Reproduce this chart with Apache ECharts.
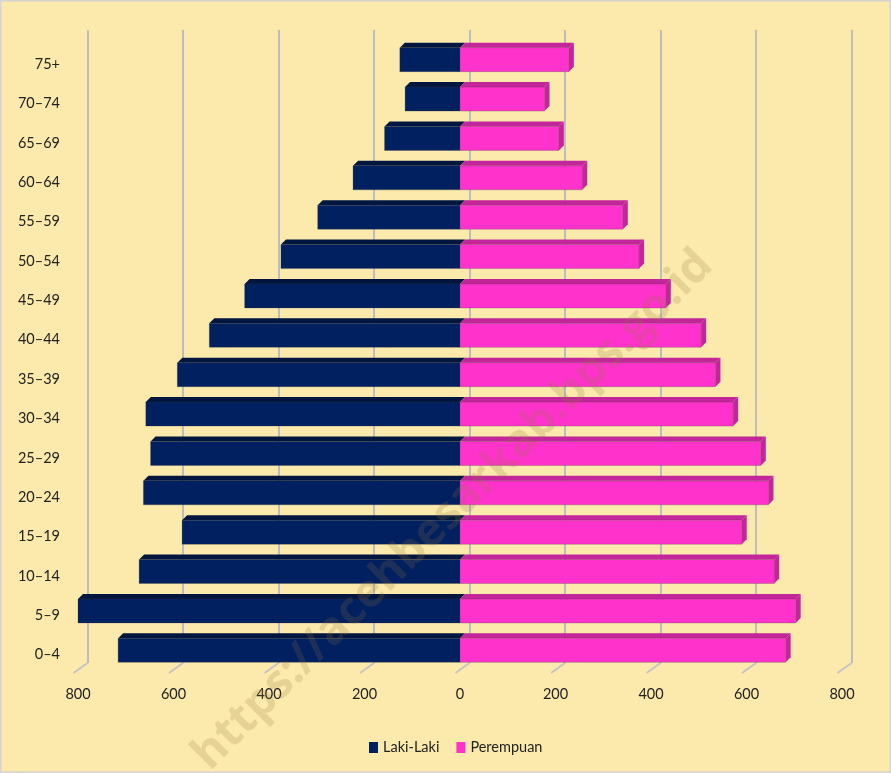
<!DOCTYPE html>
<html>
<head>
<meta charset="utf-8">
<script src="https://cdn.jsdelivr.net/npm/echarts@6/dist/echarts.min.js"></script>
<style>
html,body{margin:0;padding:0;background:#FCEAAD;}
#chart{width:891px;height:773px;}
</style>
</head>
<body>
<div id="chart"></div>
<script>
// ---- data ----
var categories = ['0\u20134','5\u20139','10\u201314','15\u201319','20\u201324','25\u201329','30\u201334','35\u201339','40\u201344','45\u201349','50\u201354','55\u201359','60\u201364','65\u201369','70\u201374','75+'];
var male   = [716, 800, 672, 582, 663, 648, 658, 592, 525, 451, 375, 298, 224, 158, 115, 126];
var female = [682, 703, 658, 590, 646, 630, 572, 535, 505, 431, 375, 341, 256, 207, 177, 228];
var xTicks = [-800, -600, -400, -200, 0, 200, 400, 600, 800];
var seriesNames = ['Laki-Laki', 'Perempuan'];

var chart = echarts.init(document.getElementById('chart'), null, {renderer:'canvas'});

var D = 5; // 3D depth offset
function barRender(isFemale, frontColor, darkColor) {
  return function (params, api) {
    var v = api.value(0), i = api.value(1);
    var p0 = api.coord([0, i]);
    var p1 = api.coord([v, i]);
    var band = api.size([0, 1])[1];
    var h = band * 0.61;
    var yTop = p0[1] - h / 2, yBot = p0[1] + h / 2;
    var xl = Math.min(p0[0], p1[0]), xr = Math.max(p0[0], p1[0]);
    var children = [
      {type:'polygon', shape:{points:[[xl,yTop],[xr,yTop],[xr+D,yTop-D],[xl+D,yTop-D]]},
       style:{fill:darkColor}},
      {type:'rect', shape:{x:xl, y:yTop, width:xr-xl, height:h},
       style:{fill:frontColor, stroke:'rgba(60,60,60,0.35)', lineWidth:0.8}}
    ];
    if (isFemale) {
      children.push({type:'polygon', shape:{points:[[xr,yTop],[xr+D,yTop-D],[xr+D,yBot-D],[xr,yBot]]},
        style:{fill:darkColor}});
    }
    return {type:'group', children:children};
  };
}

function floorRender(params, api) {
  var p = api.coord([api.value(0), 0]);
  return {type:'line', shape:{x1:p[0], y1:p[1], x2:p[0]-14, y2:p[1]+10},
          style:{stroke:'#C4C4C4', lineWidth:2}};
}

var fontFam = 'Lato, "Open Sans", sans-serif';

chart.setOption({
  animation:false,
  backgroundColor:'#FCEAAD',
  grid:[
    {left:78, top:40, width:764, height:630},
    {left:87.5, top:30, width:764, height:633},
    {left:78, top:44.5, width:764, height:630}
  ],
  xAxis:[
    {type:'value', gridIndex:0, min:-800, max:800, interval:200,
     axisLine:{show:false}, axisTick:{show:false}, splitLine:{show:false},
     axisLabel:{formatter:function(v){return Math.abs(v);}, fontSize:14.5, color:'#222', margin:17, fontFamily:fontFam}},
    {type:'value', gridIndex:1, min:-800, max:800, interval:200,
     axisLine:{show:false}, axisTick:{show:false}, axisLabel:{show:false},
     splitLine:{show:true, lineStyle:{color:'#BDBDBD', width:2}}},
    {type:'value', gridIndex:2, min:-800, max:800, show:false}
  ],
  yAxis:[
    {type:'category', gridIndex:0, data:categories, axisLabel:{show:false},
     axisLine:{show:false}, axisTick:{show:false}, splitLine:{show:false}},
    {type:'value', gridIndex:1, min:0, max:1, show:false},
    {type:'category', gridIndex:2, data:categories,
     axisLine:{show:false}, axisTick:{show:false}, splitLine:{show:false},
     axisLabel:{fontSize:14.5, color:'#222', margin:18, fontFamily:fontFam}}
  ],
  legend:{
    data:seriesNames, left:364, top:735, icon:'rect', itemWidth:9, itemHeight:11, itemGap:17,
    textStyle:{fontSize:14.5, color:'#222', fontFamily:fontFam}
  },
  series:[
    {type:'custom', name:'floor', xAxisIndex:1, yAxisIndex:1, z:1, silent:true,
     renderItem:floorRender, data:xTicks.map(function(t){return [t];}), encode:{x:0}},
    {type:'custom', name:seriesNames[0], xAxisIndex:0, yAxisIndex:0, z:3,
     itemStyle:{color:'#002060'},
     renderItem:barRender(false, '#002060', '#00163F'),
     data:male.map(function(v,i){return [-v, i];}), encode:{x:0, y:1}},
    {type:'custom', name:seriesNames[1], xAxisIndex:0, yAxisIndex:0, z:4,
     itemStyle:{color:'#FF33CC'},
     renderItem:barRender(true, '#FF33CC', '#C2269A'),
     data:female.map(function(v,i){return [v, i];}), encode:{x:0, y:1}}
  ],
  graphic:[
    {type:'rect', z:0, silent:true, shape:{x:0.5, y:0.5, width:890, height:772},
     style:{fill:'none', stroke:'#D4D4D4', lineWidth:2}},
    {type:'text', z:100, silent:true, x:453, y:510, rotation:Math.PI/4,
     style:{text:'https://acehbesarkab.bps.go.id', font:'bold 46px "Open Sans", sans-serif',
            fill:'rgba(150,115,60,0.2)', align:'center', verticalAlign:'middle'}}
  ]
});
</script>
</body>
</html>
